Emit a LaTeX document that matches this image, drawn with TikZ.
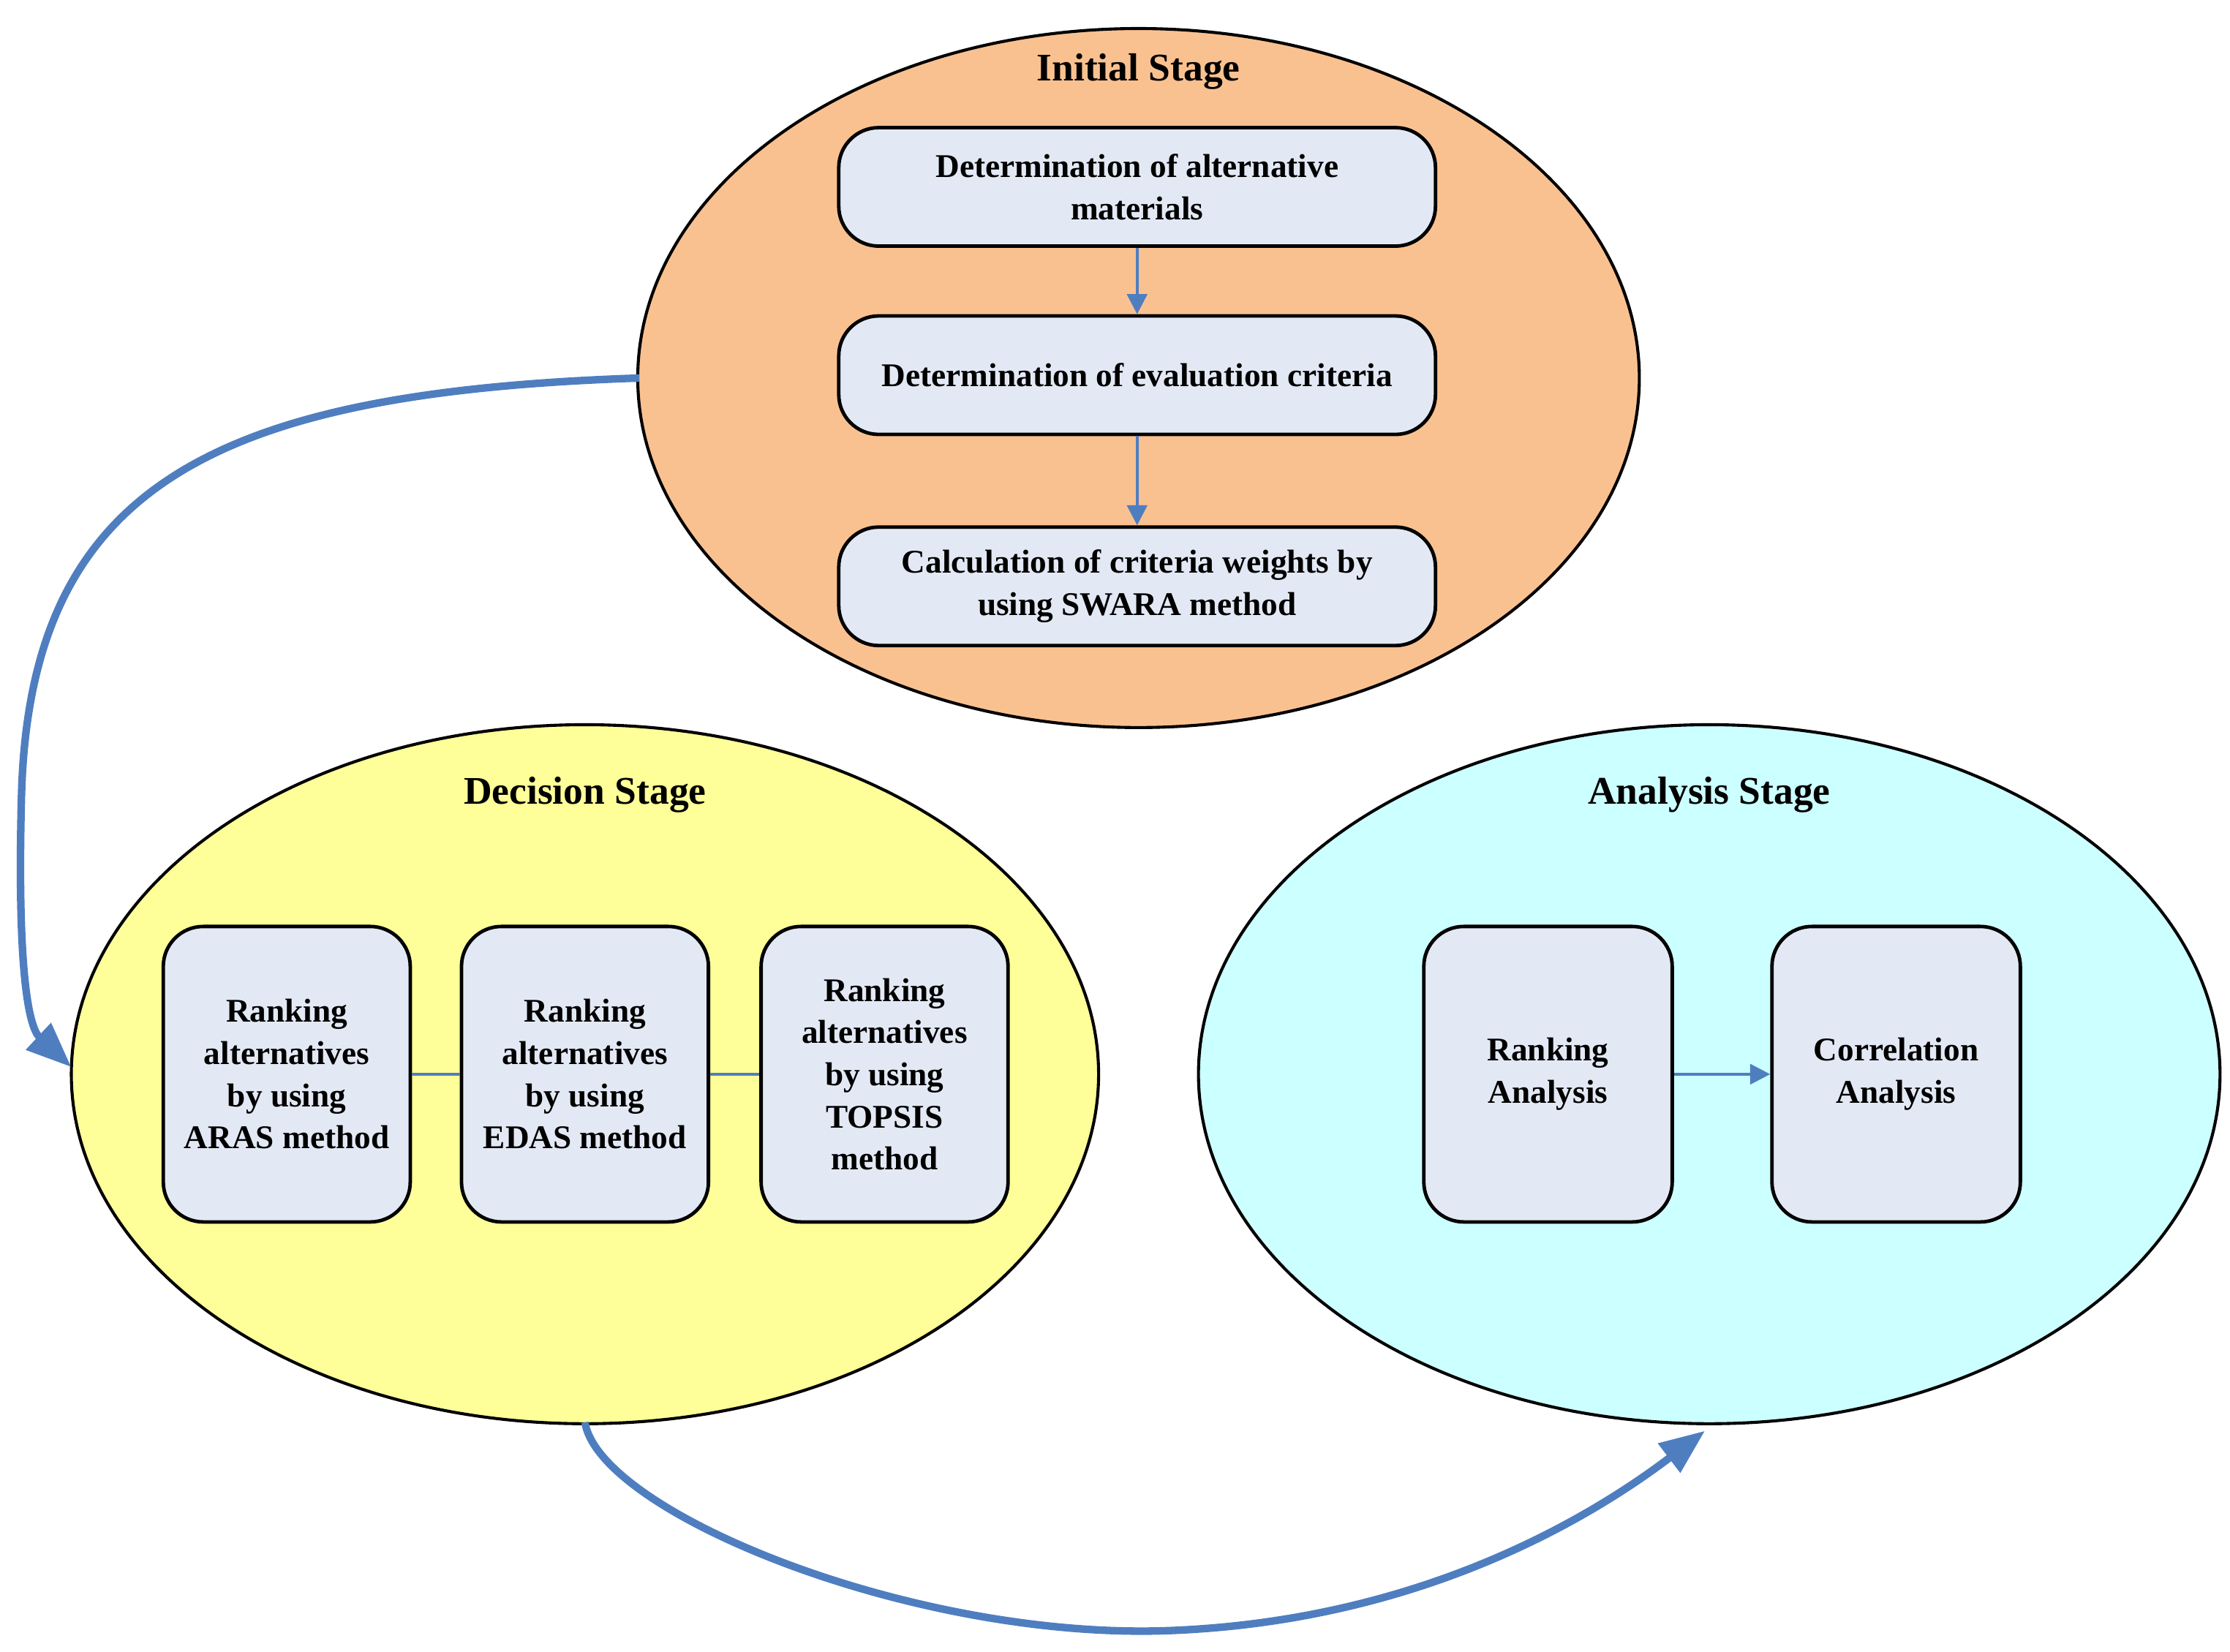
\documentclass[tikz,border=0pt]{standalone}
\usepackage{fontspec}
\setmainfont{Liberation Serif}
\usetikzlibrary{arrows.meta}
\definecolor{arr}{HTML}{4F7EC0}
\definecolor{boxf}{HTML}{E3E9F4}
\begin{document}
\begin{tikzpicture}[x=0.01cm,y=-0.01cm,
 stage/.style={draw=black,line width=0.6pt,ellipse},
 box/.style={draw=black,line width=0.7pt,fill=boxf,rounded corners=0.28cm,align=center,font=\bfseries\fontsize{6.6}{8.4}\selectfont,inner sep=0pt},
 ttl/.style={font=\bfseries\fontsize{7.8}{9}\selectfont},
 thin/.style={arr,line width=0.6pt,-{Triangle[length=4pt,width=4pt]}},
 big/.style={arr,line width=1.5pt,-{Triangle[length=9pt,width=7pt]}}]
\useasboundingbox (0,0) rectangle (1563,1158);
\filldraw[fill={rgb,255:red,250;green,193;blue,144},line width=0.6pt] (798,265) ellipse [x radius=351,y radius=245];
\filldraw[fill={rgb,255:red,255;green,255;blue,153},line width=0.6pt] (410,753) ellipse [x radius=360,y radius=245];
\filldraw[fill={rgb,255:red,204;green,255;blue,255},line width=0.6pt] (1198,753) ellipse [x radius=358,y radius=245];
\node[ttl] (t1) at (798,50) {Initial Stage};
\node[ttl] (t2) at (410,557) {Decision Stage};
\node[ttl] (t3) at (1198,557) {Analysis Stage};
\node[box,minimum width=4.18cm,minimum height=0.83cm] (a1) at (797,131) {Determination of alternative\\materials};
\node[box,minimum width=4.18cm,minimum height=0.83cm] (a2) at (797,263) {Determination of evaluation criteria};
\node[box,minimum width=4.18cm,minimum height=0.83cm] (a3) at (797,411) {Calculation of criteria weights by\\using SWARA method};
\draw[thin] (a1) -- (a2);
\draw[thin] (a2) -- (a3);
\node[box,minimum width=1.73cm,minimum height=2.07cm] (d1) at (201,753) {Ranking\\alternatives\\by using\\ARAS method};
\node[box,minimum width=1.73cm,minimum height=2.07cm] (d2) at (410,753) {Ranking\\alternatives\\by using\\EDAS method};
\node[box,minimum width=1.73cm,minimum height=2.07cm] (d3) at (620,753) {Ranking\\alternatives\\by using\\TOPSIS\\method};
\draw[arr,line width=0.6pt] (d1) -- (d2);
\draw[arr,line width=0.6pt] (d2) -- (d3);
\node[box,minimum width=1.74cm,minimum height=2.07cm] (r1) at (1085,753) {Ranking\\Analysis};
\node[box,minimum width=1.74cm,minimum height=2.07cm] (r2) at (1329,753) {Correlation\\Analysis};
\draw[thin] (r1) -- (r2);
\coordinate (s1) at (448,265);
\coordinate (e1) at (50,748);
\coordinate (s2) at (410,997);
\coordinate (e2) at (1195,1003);
\draw[big] (s1) .. controls (150,275) and (20,340) .. (15,560) .. controls (12,680) and (20,720) .. (e1);
\draw[big] (s2) .. controls (420,1060) and (640,1150) .. (820,1143) .. controls (1000,1136) and (1120,1060) .. (e2);
\end{tikzpicture}
\end{document}
